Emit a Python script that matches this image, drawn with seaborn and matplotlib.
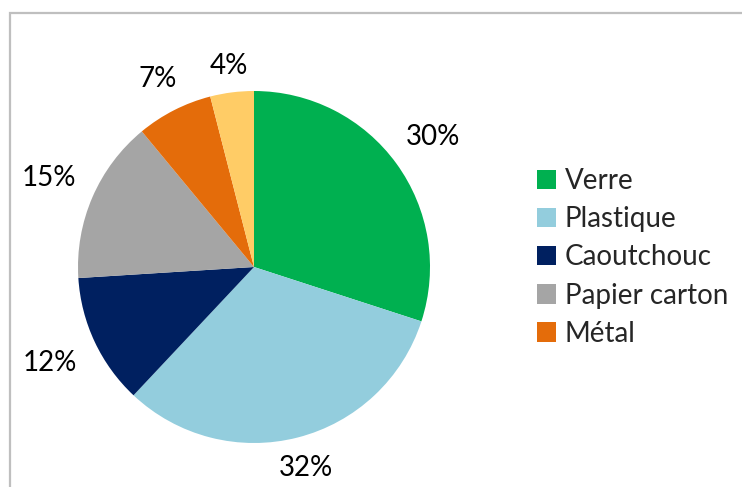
import matplotlib
matplotlib.use("Agg")
import matplotlib.pyplot as plt
import matplotlib.patches as mpatches
import numpy as np
import seaborn as sns

categories = ["Verre", "Plastique", "Caoutchouc", "Papier carton", "Métal", "Autres"]
values = [30, 32, 12, 15, 7, 4]
colors = ["#00B050", "#93CDDD", "#002060", "#A5A5A5", "#E46C0A", "#FFCC66"]
legend_count = 5  # the last entry is cut off in the original

# radial distance of each percentage label (as in the Excel layout)
label_dist = [1.26, 1.18, 1.28, 1.27, 1.20, 1.15]

sns.set_theme(style="white")
plt.rcParams["font.family"] = ["Lato", "DejaVu Sans"]

fig = plt.figure(figsize=(7.42, 4.87), dpi=100)

# grey chart frame (right and bottom edges cropped in the original)
fig.patches.append(mpatches.Rectangle((10 / 742, -0.05), 1.0, 1 - 13 / 487 + 0.05,
                                      transform=fig.transFigure, fill=False,
                                      edgecolor="#BFBFBF", linewidth=1.6))

cx, cy, r = 254 / 742, 1 - 267 / 487, 176
ax = fig.add_axes([cx - r / 742, cy - r / 487, 2 * r / 742, 2 * r / 487])
wedges, texts = ax.pie(values, colors=colors, startangle=90, counterclock=False,
                       labels=[f"{v}%" for v in values], labeldistance=1.0,
                       textprops=dict(fontsize=20, color="#000000"),
                       wedgeprops=dict(linewidth=0))
for w, t, d in zip(wedges, texts, label_dist):
    ang = np.deg2rad((w.theta1 + w.theta2) / 2)
    t.set_position((d * np.cos(ang), d * np.sin(ang)))
    t.set_horizontalalignment("center")
    t.set_verticalalignment("center")
ax.set_xlim(-1, 1)
ax.set_ylim(-1, 1)

fig.legend(wedges[:legend_count], categories[:legend_count],
           loc="upper left", bbox_to_anchor=(537 / 742, 1 - 168 / 487),
           frameon=False, fontsize=20, handlelength=0.7, handleheight=0.7,
           handletextpad=0.3, labelspacing=0.44, borderaxespad=0, borderpad=0)

fig.savefig("out.png", dpi=100)
